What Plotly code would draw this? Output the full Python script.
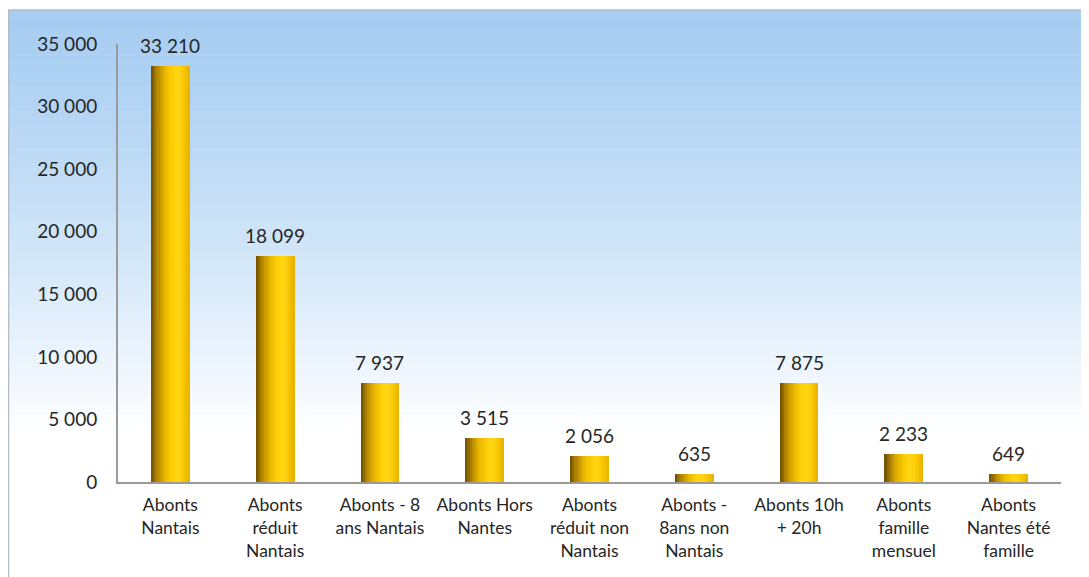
import plotly.graph_objects as go

categories = ["Abonts<br>Nantais", "Abonts<br>réduit<br>Nantais", "Abonts - 8<br>ans Nantais",
              "Abonts Hors<br>Nantes", "Abonts<br>réduit non<br>Nantais", "Abonts -<br>8ans non<br>Nantais",
              "Abonts 10h<br>+ 20h", "Abonts<br>famille<br>mensuel", "Abonts<br>Nantes été<br>famille"]
values = [33210, 18099, 7937, 3515, 2056, 635, 7875, 2233, 649]
y_ticks = [0, 5000, 10000, 15000, 20000, 25000, 30000, 35000]

FONT = "Lato, 'Liberation Sans', sans-serif"
# page body has an 8px margin: size the figure so the plot lands where the reference has it
OFF = 8
W, H = 1089 - OFF, 577 - OFF
ML, MR, MT, MB = 118 - OFF, 28, 44 - OFF, 95
xs = list(range(len(categories)))

fig = go.Figure()

# cylinder-like bars built from vertical stripes
stops = [(0.0, (105, 75, 0)), (0.15, (175, 130, 0)), (0.35, (232, 182, 0)),
         (0.55, (255, 208, 8)), (0.7, (255, 214, 20)), (0.85, (248, 198, 0)), (1.0, (228, 176, 0))]

def col(t):
    for (t0, c0), (t1, c1) in zip(stops[:-1], stops[1:]):
        if t0 <= t <= t1:
            f = (t - t0) / (t1 - t0) if t1 > t0 else 0
            return "rgb(%d,%d,%d)" % tuple(round(a + (b - a) * f) for a, b in zip(c0, c1))
    return "rgb(%d,%d,%d)" % stops[-1][1]

BW = 0.37
N = 18
sw = BW / N
for i in range(N):
    w = sw * 1.15 if i < N - 1 else sw
    fig.add_trace(go.Bar(x=xs, y=values, width=[w] * len(xs),
                         offset=-BW / 2 + i * sw,
                         marker=dict(color=col((i + 0.5) / N), line=dict(width=0)),
                         hoverinfo="skip", showlegend=False))

for x, v in zip(xs, values):
    fig.add_annotation(x=x, y=v, text=f"{v:,}".replace(",", " "), showarrow=False,
                       yanchor="bottom", yshift=7, font=dict(size=19, color="#262626", family=FONT))

# background gradient (paper coordinates)
shapes = []
pw = W - ML - MR
ph = H - MT - MB
def px2x(p): return (p - OFF - ML) / pw
def py2y(p): return (H - MB - (p - OFF)) / ph
top, bottom = 10, 580
n = 90
c_top = (166, 205, 242)
for k in range(n):
    y0p = top + (bottom - top) * k / n
    y1p = top + (bottom - top) * (k + 1) / n
    t = min(1.0, (y0p - top) / (430 - top))
    t = t ** 1.25
    c = tuple(round(a + (255 - a) * t) for a in c_top)
    shapes.append(dict(type="rect", xref="paper", yref="paper", layer="below",
                       x0=px2x(8), x1=px2x(1100), y0=py2y(y1p + 0.5), y1=py2y(y0p),
                       fillcolor="rgb(%d,%d,%d)" % c, line=dict(width=0)))
# border lines
shapes.append(dict(type="line", xref="paper", yref="paper", x0=px2x(8), x1=px2x(1100),
                   y0=py2y(10), y1=py2y(10), line=dict(color="#B4BCC8", width=1.5)))
shapes.append(dict(type="line", xref="paper", yref="paper", x0=px2x(8.5), x1=px2x(8.5),
                   y0=py2y(10), y1=py2y(590), line=dict(color="#B4BCC8", width=1.5)))

fig.update_layout(
    width=W, height=H,
    margin=dict(l=ML, r=MR, t=MT, b=MB, pad=0),
    paper_bgcolor="white", plot_bgcolor="rgba(0,0,0,0)",
    barmode="overlay", bargap=0,
    separators=", ",
    shapes=shapes,
    font=dict(family=FONT, color="#262626"),
    xaxis=dict(range=[-0.5, len(xs) - 0.5], tickvals=xs, ticktext=categories,
               showline=True, linecolor="#9A9A9A", linewidth=2, showgrid=False, zeroline=False,
               ticks="", tickfont=dict(size=17.5, family=FONT, color="#262626"), ticklabelstandoff=6),
    yaxis=dict(range=[0, 35000], tickvals=y_ticks, tickformat=",d",
               showline=True, linecolor="#9A9A9A", linewidth=2, showgrid=False, zeroline=False,
               ticks="", tickfont=dict(size=19, family=FONT, color="#262626"), ticklabelstandoff=15),
)

fig.write_html("out.html")
